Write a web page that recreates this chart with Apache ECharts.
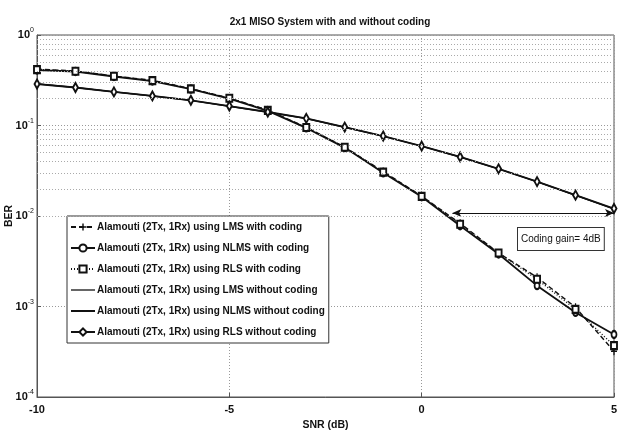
<!DOCTYPE html>
<html>
<head>
<meta charset="utf-8">
<script src="https://cdn.jsdelivr.net/npm/echarts@6/dist/echarts.min.js"></script>
<style>
html, body { margin: 0; padding: 0; background: #fff; }
#chart { width: 627px; height: 433px; }
</style>
</head>
<body>
<div id="chart"></div>
<script>
const snr = [-10, -9, -8, -7, -6, -5, -4, -3, -2, -1, 0, 1, 2, 3, 4, 5]

// with coding (steep curves)
const lmsCoded = [0.42, 0.40, 0.352, 0.316, 0.255, 0.201, 0.148, 0.0955, 0.0578, 0.031, 0.0166, 0.0083, 0.0039, 0.0021, 0.00098, 0.00032]
const nlmsCoded = [0.41, 0.395, 0.348, 0.31, 0.252, 0.198, 0.145, 0.094, 0.057, 0.030, 0.0163, 0.0078, 0.0038, 0.0017, 0.00086, 0.00049]
const rlsCoded = [0.415, 0.398, 0.35, 0.313, 0.254, 0.2, 0.147, 0.095, 0.0575, 0.0305, 0.0165, 0.0081, 0.0039, 0.0020, 0.00093, 0.00037]

// without coding (flat curves)
const lmsUncoded = [0.29, 0.264, 0.236, 0.212, 0.19, 0.164, 0.141, 0.12, 0.096, 0.0766, 0.0593, 0.045, 0.0333, 0.024, 0.017, 0.012]
const nlmsUncoded = [0.288, 0.262, 0.235, 0.211, 0.189, 0.163, 0.14, 0.119, 0.0955, 0.076, 0.059, 0.0448, 0.0331, 0.0239, 0.0169, 0.0119]
const rlsUncoded = [0.287, 0.263, 0.235, 0.212, 0.19, 0.164, 0.141, 0.12, 0.096, 0.0765, 0.0592, 0.0449, 0.0332, 0.024, 0.017, 0.0121]

const names = [
	'Alamouti (2Tx, 1Rx) using LMS with coding',
	'Alamouti (2Tx, 1Rx) using NLMS with coding',
	'Alamouti (2Tx, 1Rx) using RLS with coding',
	'Alamouti (2Tx, 1Rx) using LMS without coding',
	'Alamouti (2Tx, 1Rx) using NLMS without coding',
	'Alamouti (2Tx, 1Rx) using RLS without coding'
]

const yTicks = [1e-4, 1e-3, 1e-2, 1e-1, 1]
const minorY = []
yTicks.slice(0, 4).forEach(d => {
	for (let k = 2; k <= 9; k++) minorY.push(d * k)
})

const font = "'Liberation Sans', Arial, sans-serif"
const plus = 'path://M4,0H6V4H10V6H6V10H4V6H0V4H4Z'

function pairs(ys) {
	return snr.map((x, i) => [x, ys[i]])
}

function line(name, ys, opts) {
	return Object.assign({
		name: name,
		type: 'line',
		data: pairs(ys),
		symbolSize: 7,
		showSymbol: true,
		itemStyle: { color: '#111', borderWidth: 1.2 },
		lineStyle: { color: '#111', width: 1.8 },
		z: 3
	}, opts)
}

// plain lines get no marker in the legend
const legendData = names.map((n, i) => (i === 3 || i === 4) ? { name: n, itemStyle: { opacity: 0 } } : n)

const chart = echarts.init(document.getElementById('chart'))

chart.setOption({
	animation: false,
	backgroundColor: '#fff',
	textStyle: { fontFamily: font },
	title: {
		text: '2x1 MISO System with and without coding',
		left: 325,
		textAlign: 'center',
		top: 12,
		textStyle: { fontSize: 10, fontWeight: 'bold', color: '#111', fontFamily: font }
	},
	grid: {
		left: 37,
		right: 13,
		top: 35,
		bottom: 36,
		outerBoundsMode: 'none',
		containLabel: false,
		show: true,
		borderColor: '#555',
		borderWidth: 1
	},
	legend: {
		orient: 'vertical',
		left: 67,
		top: 216,
		itemWidth: 24,
		itemHeight: 9,
		itemGap: 11,
		padding: [6, 4, 6, 3],
		backgroundColor: '#fff',
		borderColor: '#333',
		borderWidth: 1,
		selectedMode: false,
		textStyle: { fontSize: 10, fontWeight: 'bold', color: '#111', fontFamily: font, padding: [0, 0, 0, -3] },
		data: legendData
	},
	xAxis: {
		type: 'value',
		min: -10,
		max: 5,
		interval: 5,
		name: 'SNR (dB)',
		nameLocation: 'middle',
		nameGap: 20,
		nameTextStyle: { fontSize: 10.5, fontWeight: 'bold', color: '#111' },
		axisLine: { onZero: false, lineStyle: { color: '#555' } },
		axisTick: { inside: true, length: 4, lineStyle: { color: '#555' } },
		axisLabel: { fontSize: 11, fontWeight: 'bold', color: '#111', margin: 7 },
		splitLine: { show: true, lineStyle: { color: '#999', type: [1, 2], width: 1 } }
	},
	yAxis: {
		type: 'log',
		logBase: 10,
		min: 1e-4,
		max: 1,
		name: 'BER',
		nameLocation: 'middle',
		nameRotate: 90,
		nameGap: 22,
		nameMoveOverlap: false,
		nameTextStyle: { fontSize: 10.5, fontWeight: 'bold', color: '#111' },
		axisLine: { onZero: false, lineStyle: { color: '#555' } },
		axisTick: { inside: true, length: 4, lineStyle: { color: '#555' } },
		axisLabel: {
			color: '#111',
			margin: 3,
			formatter: v => '{b|10}{s|' + Math.round(Math.log10(v)) + '}',
			rich: {
				b: { fontSize: 11, fontWeight: 'bold', fontFamily: font, color: '#111' },
				s: { fontSize: 7, fontFamily: font, color: '#111', verticalAlign: 'top', padding: [0, 0, 9, 0] }
			}
		},
		splitLine: { show: true, lineStyle: { color: '#999', type: [1, 2], width: 1 } }
	},
	series: [
		line(names[0], lmsCoded, { symbol: plus, symbolSize: [6, 8], lineStyle: { color: '#111', width: 1.4, type: [5, 3] } }),
		line(names[1], nlmsCoded, { symbol: 'emptyCircle', symbolSize: [5, 7] }),
		line(names[2], rlsCoded, { symbol: 'emptyRect', symbolSize: [6, 7], lineStyle: { color: '#111', width: 1.4, type: [1, 2] } }),
		line(names[3], lmsUncoded, { symbol: 'none', lineStyle: { color: '#666', width: 1.2 } }),
		line(names[4], nlmsUncoded, { symbol: 'none', lineStyle: { color: '#111', width: 1.2 } }),
		line(names[5], rlsUncoded, {
			symbol: 'emptyDiamond',
			symbolSize: [5, 9],
			markLine: {
				silent: true,
				symbol: ['arrow', 'arrow'],
				symbolSize: [6, 9],
				label: { show: false },
				lineStyle: { color: '#111', width: 1, type: 'solid' },
				data: [[{ coord: [0.8, 0.0108] }, { coord: [5, 0.0108] }]]
			}
		}),
		{
			// minor dotted grid lines
			type: 'line',
			data: [],
			silent: true,
			markLine: {
				silent: true,
				symbol: 'none',
				label: { show: false },
				lineStyle: { color: '#aaa', type: [1, 2], width: 1 },
				data: minorY.map(v => ({ yAxis: v }))
			},
			z: 1
		}
	],
	graphic: [
		{
			type: 'text',
			left: 517,
			top: 227,
			z: 10,
			style: {
				text: 'Coding gain= 4dB',
				font: '10px ' + font,
				fill: '#111',
				backgroundColor: '#fff',
				borderColor: '#333',
				borderWidth: 1,
				padding: [6, 3, 6, 3]
			}
		}
	]
})
</script>
</body>
</html>
